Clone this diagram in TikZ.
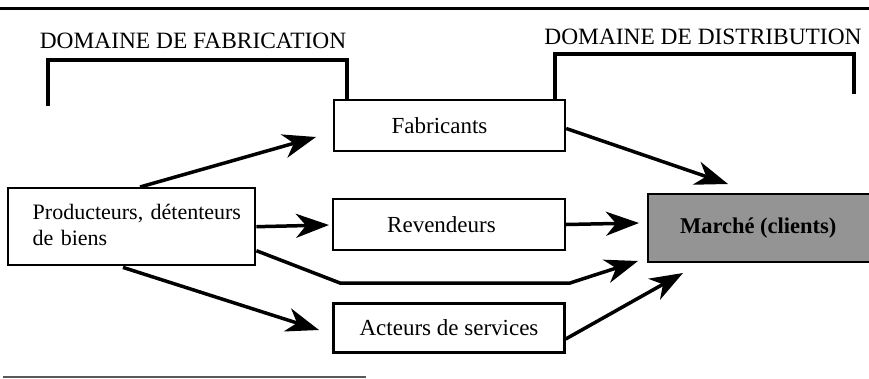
\documentclass[tikz,border=0pt]{standalone}
\usepackage{fontspec}
\setmainfont{Liberation Serif}
\usetikzlibrary{arrows.meta,calc}
\begin{document}
\begin{tikzpicture}[x=1pt,y=-1pt,
  box/.style={draw=black,line width=2.4pt,fill=white,inner sep=0pt,font=\fontsize{23}{26}\selectfont},
  bigarrow/.style={line width=3.5pt,-{Stealth[length=33pt,width=24pt,inset=10pt]}},
  bracket/.style={line width=4.5pt},
  head/.style={font=\fontsize{23.4}{26}\selectfont,inner sep=0pt}]
\useasboundingbox (0,0) rectangle (869,378);
% rules
\draw[line width=3pt] (0,8) -- (869,8);
\draw[line width=2pt,black!65] (3,377) -- (366,377);
% boxes
\node[box,minimum width=231pt,minimum height=51pt] (fab) at (449.5,125.5) {\hspace*{-20pt}Fabricants};
\node[box,minimum width=247pt,minimum height=77pt,align=left,anchor=north west,text width=230pt,font=\fontsize{22}{26}\selectfont] (prod) at (7,187)
  {\hspace*{16pt}\raisebox{3pt}{\vbox{\hbox{Producteurs, détenteurs}\hbox{de biens}}}};
\node[box,minimum width=232pt,minimum height=51pt] (rev) at (449,224.5) {\hspace*{-15pt}Revendeurs};
\node[box,minimum width=231pt,minimum height=49pt] (act) at (449,328) {Acteurs de services};
\node[draw=black,line width=2.4pt,fill=black!42,minimum width=230pt,minimum height=68pt,inner sep=0pt,
  anchor=north west,font=\fontsize{22.5}{26}\selectfont\bfseries] (mar) at (647,193) {\hspace*{-10pt}Marché (clients)};
% headings
\node[head] (hfab) at (193,41) {DOMAINE DE FABRICATION};
\node[head] (hdis) at (703,37) {DOMAINE DE DISTRIBUTION};
% brackets
\draw[bracket] (48,106) -- (48,60) -- (347,60) -- (347,98.5);
\draw[bracket] (555,98.5) -- (555,54) -- (854,54) -- (854,94);
% arrow end points
\coordinate (t1) at (316,137);
\coordinate (t2) at (329,225);
\coordinate (k1) at (340,283);
\coordinate (k2) at (570,283);
\coordinate (t3) at (638,261);
\coordinate (t4) at (319,330);
\coordinate (t5) at (639,223);
\coordinate (t6) at (728,184);
\coordinate (t7) at (683,273);
% arrows
\draw[bigarrow] ($(prod.north west)+(133,0)$) -- (t1);
\draw[bigarrow] (prod.east) -- (t2);
\draw[bigarrow] ($(prod.east)+(0,24)$) -- (k1) -- (k2) -- (t3);
\draw[bigarrow] ($(prod.south west)+(116,1)$) -- (t4);
\draw[bigarrow] (rev.east) -- (t5);
\draw[bigarrow] ($(fab.east)+(0,3)$) -- (t6);
\draw[bigarrow] ($(act.east)+(0,11)$) -- (t7);
\end{tikzpicture}
\end{document}
